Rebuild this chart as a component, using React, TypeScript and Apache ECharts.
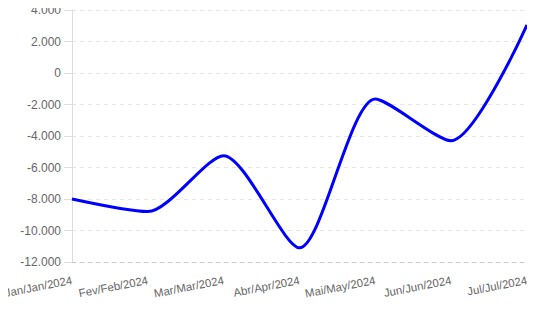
import React, { useEffect, useRef } from "react";
import * as echarts from "echarts";

const categories = ["Jan/Jan/2024", "Fev/Feb/2024", "Mar/Mar/2024", "Abr/Apr/2024", "Mai/May/2024", "Jun/Jun/2024", "Jul/Jul/2024"];
const values = [-8000, -8800, -5250, -11100, -1650, -4300, 3050];
const yTicks = { min: -12000, max: 4000, step: 2000 };

const fmt = (v: number) => {
  const s = Math.abs(v).toString().replace(/\B(?=(\d{3})+(?!\d))/g, ".");
  return (v < 0 ? "-" : "") + s;
};

export default function App() {
  const ref = useRef<HTMLDivElement>(null);
  useEffect(() => {
    const chart = echarts.init(ref.current!, null, { renderer: "svg" });
    chart.setOption({
      animation: false,
      grid: { left: 72, right: 8, top: 10, bottom: 48 },
      xAxis: {
        type: "category",
        data: categories,
        boundaryGap: false,
        axisLine: { onZero: false, lineStyle: { color: "#c8c8c8", type: [4, 4] } },
        axisTick: { show: false },
        axisLabel: { rotate: 11, color: "#666", fontSize: 11.4, fontFamily: "Arial, Liberation Sans", interval: 0, margin: 18 },
      },
      yAxis: {
        type: "value",
        min: yTicks.min,
        max: yTicks.max,
        interval: yTicks.step,
        axisLine: { show: true, lineStyle: { color: "#ddd" } },
        axisTick: { show: true, length: 8, lineStyle: { color: "#ddd" } },
        axisLabel: { color: "#666", fontSize: 12, fontFamily: "Arial, Liberation Sans", margin: 11, formatter: (v: number) => fmt(v) },
        splitLine: { lineStyle: { color: "#e6e6e6", type: [4, 4] } },
      },
      series: [
        {
          type: "line",
          data: values,
          smooth: 0.25,
          symbol: "none",
          lineStyle: { color: "#0000ff", width: 3 },
        },
      ],
    });
    return () => chart.dispose();
  }, []);
  return <div ref={ref} style={{ width: 535, height: 310, margin: -8 }} />;
}
